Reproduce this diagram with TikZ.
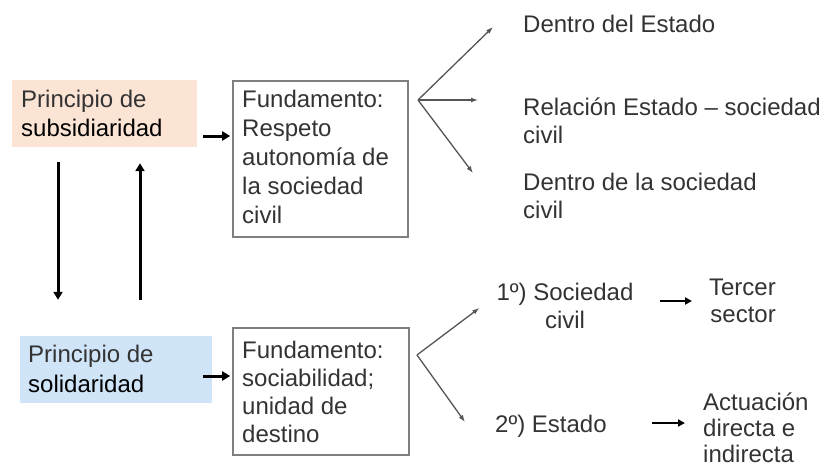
\documentclass[tikz,border=0pt]{standalone}
\usepackage{fontspec}
\setmainfont{Liberation Sans}
\usetikzlibrary{arrows.meta}
\definecolor{txt}{HTML}{333333}
\definecolor{orangefill}{HTML}{FCE4D5}
\definecolor{bluefill}{HTML}{CFE4F7}
\definecolor{boxline}{HTML}{7F7F7F}
\definecolor{fanline}{HTML}{555555}
\begin{document}
\begin{tikzpicture}[x=1pt,y=-1pt,
  lbl/.style={inner sep=0pt, anchor=base west, align=left, text=txt, font=\fontsize{24}{29}\selectfont},
  clbl/.style={lbl, align=center, anchor=base},
  panel/.style={inner sep=0pt, minimum height=67pt},
  frame/.style={draw=boxline, line width=1.5pt, inner sep=0pt},
  big/.style={line width=3pt, -{Triangle[length=8pt,width=9pt]}},
  mid/.style={line width=2.2pt, -{Triangle[length=7pt,width=7pt]}},
  fan/.style={draw=fanline, line width=1.3pt, -{Latex[length=7pt,width=5pt]}}
]
\useasboundingbox[fill=white] (0,0) rectangle (825,471);

% boxes
\node[panel, fill=orangefill, minimum width=185pt] (sub) at (104.5,113.5) {};
\node[panel, fill=bluefill, minimum width=192pt] (sol) at (116,369.5) {};
\node[frame, minimum width=175pt, minimum height=156pt] (fa) at (320.5,159) {};
\node[frame, minimum width=176pt, minimum height=127pt] (fb) at (321,391.5) {};

% texts in boxes (anchor = baseline of the last line)
\node[lbl] (subT) at (21,136) {Principio de\\\textcolor{black}{subsidiaridad}};
\node[lbl, font=\fontsize{24}{30}\selectfont] (solT) at (28,392) {Principio de\\\textcolor{black}{solidaridad}};
\node[lbl] (faT) at (242,223) {Fundamento:\\Respeto\\autonomía de\\la sociedad\\civil};
\node[lbl, font=\fontsize{24}{28}\selectfont] (fbT) at (242,442) {Fundamento:\\sociabilidad;\\unidad de\\destino};

% right texts
\node[lbl] (d1) at (523,32) {Dentro del Estado};
\node[lbl, font=\fontsize{24}{28}\selectfont] (d2) at (523,143) {Relación Estado – sociedad\\civil};
\node[lbl, font=\fontsize{24}{28}\selectfont] (d3) at (523,218) {Dentro de la sociedad\\civil};
\node[clbl, font=\fontsize{24}{28}\selectfont] (s1) at (565,328) {1º) Sociedad\\civil};
\node[lbl, align=right, anchor=base east, font=\fontsize{24}{27}\selectfont] (t1) at (776,322) {Tercer\\sector};
\node[lbl] (s2) at (495,432) {2º) Estado};
\node[lbl, font=\fontsize{24}{26}\selectfont] (t2) at (703,462) {Actuación\\directa e\\indirecta};

% main arrows
\draw[big] ([xshift=6pt,yshift=-22.5pt]sub.east) -- ++(27,0);
\draw[big] ([xshift=-9pt,yshift=-6.5pt]sol.east) -- ++(27,0);
\draw[big] ([xshift=-46.5pt,yshift=-15pt]sub.south) -- ([xshift=-58pt,yshift=36pt]sol.north);
\draw[big] ([xshift=24pt,yshift=36pt]sol.north) -- ([xshift=35.5pt,yshift=-16pt]sub.south);

% fans
\coordinate (o1) at (418,100);
\coordinate (o2) at (417,355);
\draw[fan] (o1) -- ([shift={(-30,-5)}]d1.base west);
\draw[fan] (o1) -- ([shift={(-45,-43)}]d2.base west);
\draw[fan] (o1) -- ([shift={(-50,-45)}]d3.base west);
\draw[fan] (o2) -- ([shift={(-17,-20)}]s1.base west);
\draw[fan] (o2) -- ([shift={(-30,-10)}]s2.base west);

% right arrows
\draw[mid] ([shift={(-116,-21)}]t1.base east) -- ([shift={(-84,-21)}]t1.base east);
\draw[mid] ([shift={(-51,-39)}]t2.base west) -- ([shift={(-18,-39)}]t2.base west);
\end{tikzpicture}
\end{document}
